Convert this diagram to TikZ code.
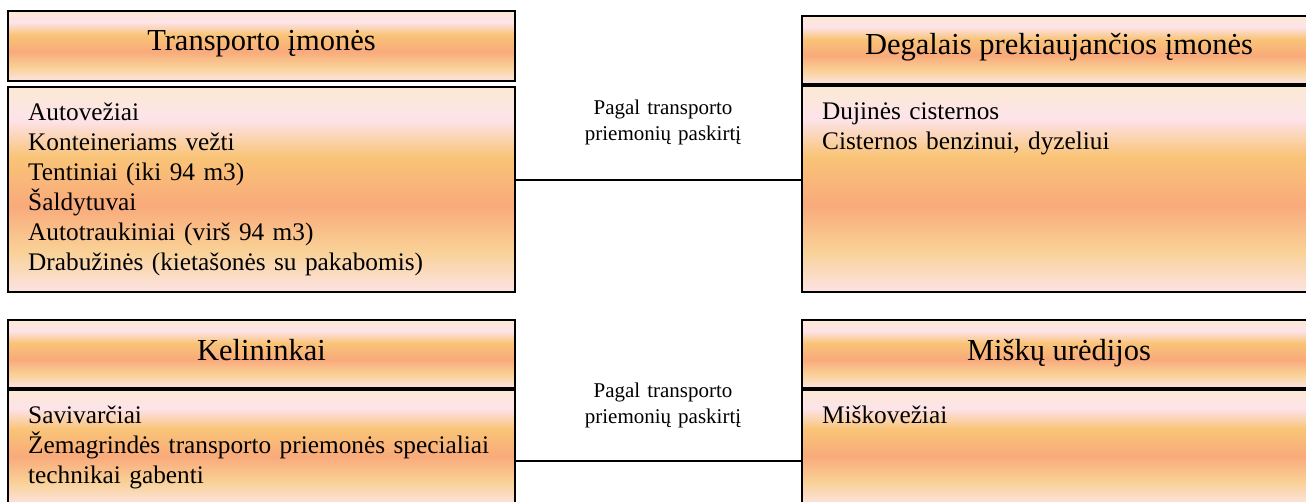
\documentclass[tikz,border=0pt]{standalone}
\usepackage{fontspec}
\setmainfont{Liberation Serif}
\definecolor{gcream}{HTML}{FBE9D3}
\definecolor{gpink}{HTML}{FDE3EA}
\definecolor{gorange}{HTML}{F9C477}
\definecolor{gsalmon}{HTML}{F9AA7B}
\definecolor{glight}{HTML}{F9D196}
\definecolor{gblush}{HTML}{FCE3E3}
% warm vertical band fill (the box itself spans 25bp..75bp)
\pgfdeclareverticalshading{sunset}{100bp}{color(0bp)=(gblush); color(25bp)=(gblush); color(35bp)=(glight); color(46bp)=(gsalmon); color(58bp)=(gorange); color(67bp)=(gpink); color(75bp)=(gcream); color(100bp)=(gcream)}
\tikzset{
  panel/.style={draw=black, line width=2pt, shading=sunset, inner sep=0pt, minimum width=507pt},
  widepanel/.style={panel, minimum width=514pt},
  title/.style={anchor=base, inner sep=0pt, font=\fontsize{30.5pt}{36pt}\selectfont},
  items/.style={anchor=base west, inner sep=0pt, text width=480pt, align=left, font=\fontsize{25.3pt}{30pt}\selectfont},
  note/.style={anchor=base, inner sep=0pt, text width=240pt, align=center, font=\fontsize{21pt}{26pt}\selectfont},
  link/.style={draw=black, line width=1.5pt}
}
\begin{document}
\begin{tikzpicture}[x=1pt, y=-1pt]
\useasboundingbox (0,0) rectangle (1306,502);
\clip (0,0) rectangle (1306,502);
% upper pair of panels
\node[panel, minimum height=70pt] (tlh) at (261.5,46) {};
\node[panel, minimum height=205pt] (tlb) at (261.5,189.5) {};
\node[widepanel, minimum height=68pt] (trh) at (1059,50) {};
\node[widepanel, minimum height=206pt] (trb) at (1059,189) {};
% lower pair of panels
\node[panel, minimum height=68pt] (blh) at (261.5,354) {};
\node[panel, minimum height=115pt] (blb) at (261.5,447.5) {};
\node[widepanel, minimum height=68pt] (brh) at (1059,354) {};
\node[widepanel, minimum height=115pt] (brb) at (1059,447.5) {};
% titles
\node[title] (t1) at (261.5,51) {Transporto įmonės};
\node[title] (t2) at (1059,55) {Degalais prekiaujančios įmonės};
\node[title] (t3) at (261.5,360) {Kelininkai};
\node[title] (t4) at (1059,360) {Miškų urėdijos};
% item lists
\node[items] (l1) at (28,121) {Autovežiai\\Konteineriams vežti\\Tentiniai (iki 94 m3)\\Šaldytuvai\\Autotraukiniai (virš 94 m3)\\Drabužinės (kietašonės su pakabomis)};
\node[items] (l2) at (822,120) {Dujinės cisternos\\Cisternos benzinui, dyzeliui};
\node[items] (l3) at (28,423) {Savivarčiai\\\makebox[467pt][s]{Žemagrindės transporto priemonės specialiai}\\technikai gabenti};
\node[items] (l4) at (822,423) {Miškovežiai};
% connectors and their captions
\coordinate (c1) at (660,180);
\coordinate (c2) at (660,461);
\draw[link] (tlb.east |- c1) -- (trb.west |- c1);
\draw[link] (blb.east |- c2) -- (brb.west |- c2);
\node[note] (n1) at (663,115) {Pagal transporto\\priemonių paskirtį};
\node[note] (n2) at (663,397) {Pagal transporto\\priemonių paskirtį};
\end{tikzpicture}
\end{document}
